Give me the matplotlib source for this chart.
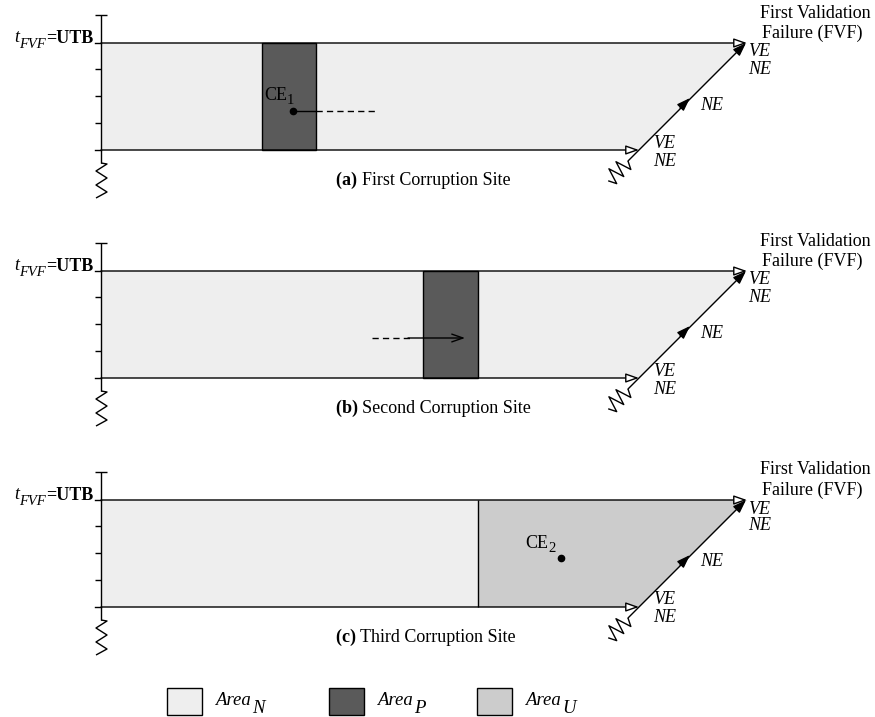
import numpy as np
import matplotlib
matplotlib.use("Agg")
import matplotlib.pyplot as plt
from matplotlib.patches import Polygon, Rectangle

plt.rcParams['font.family'] = ['Liberation Serif', 'DejaVu Serif']
plt.rcParams['mathtext.fontset'] = 'custom'
plt.rcParams['mathtext.rm'] = 'Liberation Serif'
plt.rcParams['mathtext.it'] = 'Liberation Serif:italic'
plt.rcParams['mathtext.bf'] = 'Liberation Serif:bold'

# ---- content ----
panel_tags = ["(a)", "(b)", "(c)"]
panel_names = ["First Corruption Site", "Second Corruption Site", "Third Corruption Site"]
panel_offsets = [0, 228, 457]
dark_bands = [(262, 316), (423, 478), None]     # Area_P column per panel
unknown_start = [None, None, 478]               # Area_U starts per panel
legend_main = ["Area", "Area", "Area"]
legend_subs = ["N", "P", "U"]

col_N = "#eeeeee"
col_P = "#5a5a5a"
col_U = "#cccccc"
legend_colors = [col_N, col_P, col_U]

# ---- geometry (pixel frame) ----
X0, TOP, BOT = 101, 43, 150
TOP_TIP, BOT_TIP = 747, 639
tick_ys = [69, 96, 123]
LW = 1.0
FS = 13

fig = plt.figure(figsize=(8.75, 7.17), dpi=100)
ax = fig.add_axes([0, 0, 1, 1])
ax.set_xlim(0, 875)
ax.set_ylim(717, 0)
ax.axis('off')
renderer = fig.canvas.get_renderer()


def seq_text(x, pieces, ha='left', gap=0):
    """pieces: list of (text, baseline_y, size, weight, style)."""
    objs = []
    for s, y, size, w, st in pieces:
        t = ax.text(0, y, s, ha='left', va='baseline', fontsize=size,
                    fontweight=w, style=st)
        objs.append(t)
    widths = [t.get_window_extent(renderer).width + gap for t in objs]
    total = sum(widths)
    cx = x - total if ha == 'right' else x
    for t, w in zip(objs, widths):
        t.set_x(cx)
        cx += w


def line(xs, ys, **kw):
    kw.setdefault('color', 'black')
    kw.setdefault('lw', LW)
    ax.plot(xs, ys, solid_capstyle='butt', **kw)


def arrow(start, tip, fc, style='-|>,head_length=0.8,head_width=0.28'):
    ax.annotate('', xy=tip, xytext=start,
                arrowprops=dict(arrowstyle=style, fc=fc, ec='black', lw=LW,
                                shrinkA=0, shrinkB=0))


def draw_panel(i):
    dy = panel_offsets[i]
    top, bot = TOP + dy, BOT + dy
    poly = [(X0, top), (TOP_TIP, top), (BOT_TIP, bot), (X0, bot)]
    ax.add_patch(Polygon(poly, closed=True, fc=col_N, ec='none'))
    if unknown_start[i] is not None:
        xu = unknown_start[i]
        ax.add_patch(Polygon([(xu, top), (TOP_TIP, top), (BOT_TIP, bot), (xu, bot)],
                             closed=True, fc=col_U, ec='none'))
        line([xu, xu], [top, bot])
    if dark_bands[i] is not None:
        a, b = dark_bands[i]
        ax.add_patch(Rectangle((a, top), b - a, bot - top, fc=col_P, ec='black', lw=LW))
    # vertical axis with ticks and break
    line([X0, X0], [15 + dy, 163 + dy])
    line([95, 107], [15 + dy, 15 + dy])
    for ty in tick_ys:
        line([95, X0], [ty + dy, ty + dy])
    zz_x = [101, 107, 96, 107, 96, 107, 96]
    zz_y = [163, 164, 171, 178, 185, 192, 198]
    line(zz_x, [v + dy for v in zz_y])
    # horizontal lines with open arrowheads
    ax.plot([95, X0], [top, top], color='black', lw=LW)
    ax.plot([95, X0], [bot, bot], color='black', lw=LW)
    arrow((X0, top), (TOP_TIP, top), 'white')
    arrow((X0, bot), (BOT_TIP, bot), 'white')
    # diagonal with filled arrowheads
    sx, sy = 628, 161 + dy
    arrow((sx, sy), (TOP_TIP - 1, top), 'black')
    arrow((680, 108 + dy), (690, 98 + dy), 'black')
    # zigzag break on diagonal
    d = np.array([-1.0, 1.0]) / np.sqrt(2)
    p = np.array([1.0, 1.0]) / np.sqrt(2)
    ts = [0, 4, 9, 14, 19, 24, 28]
    amps = [0, 8, -8, 8, -8, 8, 0]
    pts = [np.array([sx, sy]) + t * d + a_ * p for t, a_ in zip(ts, amps)]
    line([q[0] for q in pts], [q[1] for q in pts])
    # labels
    seq_text(93, [("t", top - 1, FS, 'normal', 'italic'),
                  ("FVF", top + 5, 10.5, 'normal', 'italic'),
                  ("=UTB", top, FS, 'bold', 'normal')], ha='right')
    ax.text(815, 13 + dy, "First Validation", ha='center', va='center', fontsize=FS)
    ax.text(812, 33 + dy, "Failure (FVF)", ha='center', va='center', fontsize=FS)
    for (tx, ty, s) in [(748, 52, "VE"), (748, 69, "NE"), (700, 105, "NE"),
                        (653, 143, "VE"), (653, 161, "NE")]:
        ax.text(tx, ty + dy, s, ha='left', va='center', fontsize=FS, style='italic')
    seq_text(336, [(panel_tags[i] + " ", 185 + dy, FS, 'bold', 'normal'),
                   (panel_names[i], 185 + dy, FS, 'normal', 'normal')])


for i in range(3):
    draw_panel(i)

# panel-specific markers
dy = panel_offsets[0]
ax.plot([293], [111 + dy], 'o', color='black', ms=4.5)
line([293, 316], [111 + dy, 111 + dy])
line([316, 375], [111 + dy, 111 + dy], dashes=(4.5, 3))
seq_text(264, [("CE", 100 + dy, FS, 'normal', 'normal'),
               ("1", 104 + dy, 10.5, 'normal', 'normal')])

dy = panel_offsets[1]
line([372, 410], [110 + dy, 110 + dy], dashes=(4.5, 3))
arrow((408, 110 + dy), (465, 110 + dy), 'black', style='->,head_length=0.8,head_width=0.28')

dy = panel_offsets[2]
ax.plot([561], [101 + dy], 'o', color='black', ms=4.5)
seq_text(525, [("CE", 91 + dy, FS, 'normal', 'normal'),
               ("2", 95 + dy, 10.5, 'normal', 'normal')])

# legend
legend_x = [167, 329, 477]
for lx, c, m, s in zip(legend_x, legend_colors, legend_main, legend_subs):
    ax.add_patch(Rectangle((lx, 688), 35, 27, fc=c, ec='black', lw=LW))
    seq_text(lx + 48, [(m, 705, 13.5, 'normal', 'italic'),
                       (s, 713, 13.5, 'normal', 'italic')], gap=1.5)

fig.savefig("out.png", dpi=100)
